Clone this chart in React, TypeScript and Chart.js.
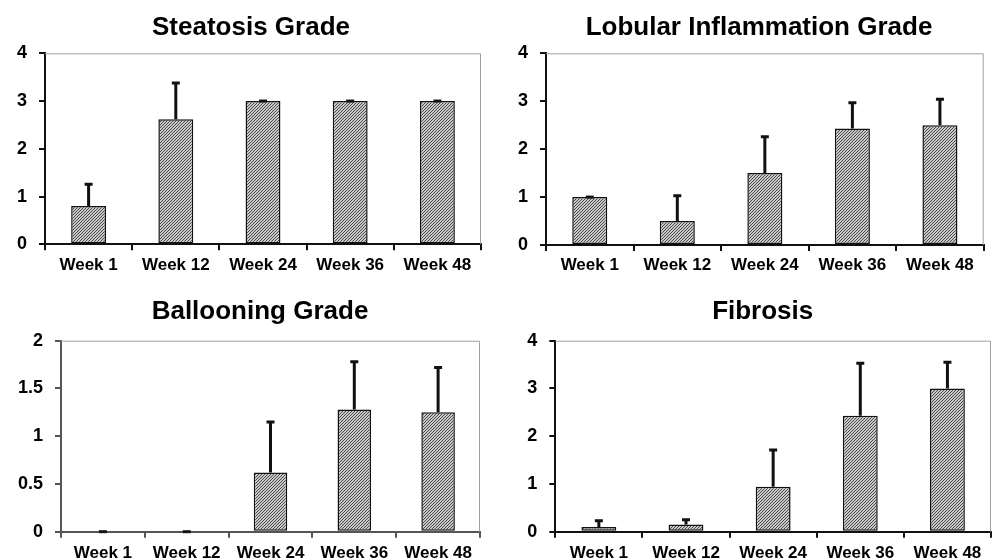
import React, { useEffect, useRef } from "react";
import { Chart, registerables } from "chart.js";

Chart.register(...registerables);

const categories = ["Week 1", "Week 12", "Week 24", "Week 36", "Week 48"];

const steatosisMean = [0.8, 2.62, 3.0, 3.0, 3.0];
const steatosisErr = [0.46, 0.76, 0, 0, 0];

const lobularMean = [1.0, 0.5, 1.5, 2.43, 2.5];
const lobularErr = [0, 0.53, 0.76, 0.54, 0.54];

const ballooningMean = [0, 0, 0.62, 1.28, 1.25];
const ballooningErr = [0, 0, 0.53, 0.5, 0.47];

const fibrosisMean = [0.1, 0.15, 0.94, 2.43, 3.0];
const fibrosisErr = [0.13, 0.1, 0.77, 1.1, 0.55];

const gradeTicks = ["0", "1", "2", "3", "4"];
const ballooningTicks = ["0", "0.5", "1", "1.5", "2"];

const FONT = "'Liberation Sans', Arial, Helvetica, sans-serif";

type Panel = {
  title: string;
  mean: number[];
  err: number[];
  max: number;
  step: number;
  tickLabels: string[];
  x: number;
  y: number;
  areaL: number;
  areaR: number;
  areaT: number;
  areaB: number;
  titleCx: number;
  titleCy: number;
  labelPad: number;
  axisColor: string;
};

const panels: Panel[] = [
  {
    title: "Steatosis Grade", mean: steatosisMean, err: steatosisErr, max: 4, step: 1, tickLabels: gradeTicks,
    x: 0, y: 0, areaL: 45, areaR: 481, areaT: 53.3, areaB: 244.3, titleCx: 251, titleCy: 28, labelPad: 5, axisColor: "#111",
  },
  {
    title: "Lobular Inflammation Grade", mean: lobularMean, err: lobularErr, max: 4, step: 1, tickLabels: gradeTicks,
    x: 496, y: 0, areaL: 50, areaR: 487.7, areaT: 53.3, areaB: 245, titleCx: 263, titleCy: 28, labelPad: 4.5, axisColor: "#111",
  },
  {
    title: "Ballooning Grade", mean: ballooningMean, err: ballooningErr, max: 2, step: 0.5, tickLabels: ballooningTicks,
    x: 0, y: 280, areaL: 61, areaR: 480, areaT: 60.7, areaB: 251.7, titleCx: 260, titleCy: 32, labelPad: 5, axisColor: "#555",
  },
  {
    title: "Fibrosis", mean: fibrosisMean, err: fibrosisErr, max: 4, step: 1, tickLabels: gradeTicks,
    x: 496, y: 280, areaL: 59.3, areaR: 495, areaT: 60.7, areaB: 251.7, titleCx: 266.7, titleCy: 32, labelPad: 5, axisColor: "#111",
  },
];

const W = 496;
const H = 280;

function makeHatch(ctx: CanvasRenderingContext2D): CanvasPattern | string {
  const c = document.createElement("canvas");
  c.width = 3;
  c.height = 3;
  const g = c.getContext("2d");
  if (!g) return "#999";
  const img = g.createImageData(3, 3);
  for (let y = 0; y < 3; y++) {
    for (let x = 0; x < 3; x++) {
      const dark = (x + y) % 3 === 2;
      const v = dark ? 75 : 200;
      const i = (y * 3 + x) * 4;
      img.data[i] = v;
      img.data[i + 1] = v;
      img.data[i + 2] = v;
      img.data[i + 3] = 255;
    }
  }
  g.putImageData(img, 0, 0);
  return ctx.createPattern(c, "repeat") || "#999";
}

const framePlugin = {
  id: "frameAndErr",
  afterLayout(chart: any, _args: any, opts: any) {
    const tb = chart.titleBlock;
    if (tb && typeof opts.titleCx === "number") {
      const w = tb.right - tb.left;
      tb.left = opts.titleCx - w / 2;
      tb.right = opts.titleCx + w / 2;
    }
  },
  beforeDatasetsDraw(chart: any) {
    const { ctx, chartArea: a } = chart;
    ctx.save();
    ctx.strokeStyle = "#a0a0a0";
    ctx.lineWidth = 1;
    ctx.beginPath();
    ctx.moveTo(a.left, a.top + 0.5);
    ctx.lineTo(a.right - 0.5, a.top + 0.5);
    ctx.lineTo(a.right - 0.5, a.bottom);
    ctx.stroke();
    ctx.restore();
  },
  afterDatasetsDraw(chart: any, _args: any, opts: any) {
    const errs: number[] = opts.errors || [];
    const data: number[] = chart.data.datasets[0].data;
    const xs = chart.scales.x;
    const ys = chart.scales.y;
    const ctx = chart.ctx;
    ctx.save();
    ctx.strokeStyle = "#111";
    ctx.lineWidth = 3;
    ctx.lineCap = "butt";
    for (let i = 0; i < data.length; i++) {
      const cx = xs.getPixelForValue(i);
      const yb = ys.getPixelForValue(data[i]);
      const yt = ys.getPixelForValue(data[i] + (errs[i] || 0));
      ctx.beginPath();
      if (yb - yt > 0.5) {
        ctx.moveTo(cx, yb);
        ctx.lineTo(cx, yt);
      }
      ctx.moveTo(cx - 4, yt);
      ctx.lineTo(cx + 4, yt);
      ctx.stroke();
    }
    ctx.restore();
  },
};

function PanelChart({ p }: { p: Panel }) {
  const ref = useRef<HTMLCanvasElement | null>(null);
  useEffect(() => {
    const canvas = ref.current;
    if (!canvas) return;
    const ctx = canvas.getContext("2d") as CanvasRenderingContext2D;
    const hatch = makeHatch(ctx);
    const titleSize = 26;
    const titleH = titleSize * 1.2;
    const padTop = p.titleCy - titleH / 2;
    const padBottom = p.areaT - padTop - titleH;
    const layoutRight = W - p.areaR;
    const yW = p.areaL;
    const xH = H - p.areaB;
    const chart = new Chart(ctx, {
      type: "bar",
      data: {
        labels: categories,
        datasets: [
          {
            data: p.mean,
            backgroundColor: hatch as any,
            borderColor: "#111",
            borderWidth: 1.5,
            borderSkipped: false,
            barPercentage: 0.4,
            categoryPercentage: 1,
          },
        ],
      },
      options: {
        responsive: false,
        animation: false,
        devicePixelRatio: 1,
        layout: { padding: { left: 0, right: layoutRight, top: 0, bottom: 0 } },
        plugins: {
          legend: { display: false },
          tooltip: { enabled: false },
          title: {
            display: true,
            text: p.title,
            color: "#000",
            font: { family: FONT, size: titleSize, weight: "bold", lineHeight: 1.2 },
            padding: { top: padTop, bottom: padBottom },
          },
          frameAndErr: { errors: p.err, titleCx: p.titleCx },
        } as any,
        scales: {
          x: {
            type: "category",
            offset: true,
            grid: {
              offset: true,
              drawOnChartArea: false,
              drawTicks: true,
              tickLength: 6,
              color: p.axisColor,
              lineWidth: 2,
            },
            border: { display: true, color: p.axisColor, width: 2 },
            ticks: {
              color: "#000",
              font: { family: FONT, size: 17, weight: "bold" },
              padding: p.labelPad,
              maxRotation: 0,
              autoSkip: false,
            },
            afterFit(s: any) {
              s.height = xH;
            },
          },
          y: {
            min: 0,
            max: p.max,
            grid: {
              drawOnChartArea: false,
              drawTicks: true,
              tickLength: 6,
              color: p.axisColor,
              lineWidth: 2,
            },
            border: { display: true, color: p.axisColor, width: 2 },
            ticks: {
              stepSize: p.step,
              color: "#000",
              font: { family: FONT, size: 18, weight: "bold" },
              padding: 12,
              callback: (v: any) => {
                const idx = Math.round(Number(v) / p.step);
                return p.tickLabels[idx] ?? String(v);
              },
            },
            afterFit(s: any) {
              s.width = yW;
            },
          },
        },
      } as any,
      plugins: [framePlugin as any],
    });
    return () => chart.destroy();
  }, [p]);
  return (
    <canvas
      ref={ref}
      width={W}
      height={H}
      style={{ position: "absolute", left: p.x, top: p.y, width: W, height: H, display: "block" }}
    />
  );
}

export default function App() {
  return (
    <div
      style={{
        position: "absolute",
        left: 0,
        top: 0,
        width: 992,
        height: 560,
        background: "#fff",
        overflow: "hidden",
      }}
    >
      {panels.map((p) => (
        <PanelChart key={p.title} p={p} />
      ))}
    </div>
  );
}
